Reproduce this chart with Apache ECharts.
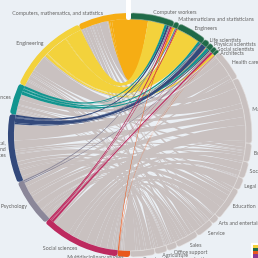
<!DOCTYPE html>
<html><head><meta charset="utf-8">
<script src="https://cdn.jsdelivr.net/npm/echarts@6/dist/echarts.min.js"></script>
<style>html,body{margin:0;padding:0;background:#ebf0f5;overflow:hidden}#c{width:258px;height:258px}</style>
</head><body><div id="c"></div><script>
// Occupations (right half, clockwise from the top)
const occupations = ['Computer workers', 'Mathematicians and statisticians', 'Engineers', 'Life scientists',
  'Physical scientists', 'Social scientists', 'Architects', 'Health care', 'Management', 'Business',
  'Social service', 'Legal', 'Education', 'Arts and entertainment', 'Service', 'Sales', 'Office support',
  'Agriculture', 'Construction and production'];
const stemOccupationCount = 7;
// Majors (left half, from the top going counter-clockwise)
const majors = ['Computers, mathematics, and statistics', 'Engineering', 'Physical sciences',
  'Biological, environmental and agricultural sciences', 'Psychology', 'Social sciences', 'Multidisciplinary studies'];
const majorLabels = ['Computers, mathematics, and statistics', 'Engineering', 'Physical sciences',
  'Biological,\nenvironmental and\nagricultural sciences', 'Psychology', 'Social sciences', 'Multidisciplinary studies'];
const majorColors = ['#f6ad14', '#f3d23c', '#12958f', '#33497b', '#8b8799', '#bd2a5f', '#e8581c'];
// Flows of each major into each occupation (same order as occupations)
const computersFlows = [9, 1, 0.6, 0, 0.1, 0.1, 0, 0.5, 4, 2, 0, 0, 1.5, 0.5, 1, 2, 1.5, 0, 1.2];
const engineeringFlows = [8.5, 0.4, 11.5, 0.1, 0.3, 0.1, 1.2, 0.8, 8, 1.5, 0, 0, 1, 0, 0.7, 2, 0.8, 0.5, 2.6];
const physicalFlows = [1.2, 0.3, 1.2, 0.3, 1.5, 0, 0.1, 2.5, 2.5, 0.5, 0, 0, 2, 0, 0.4, 0.8, 0.3, 0.4, 1];
const biologicalFlows = [1, 0.2, 0.4, 2.4, 0.6, 0.1, 0, 8, 4.5, 1, 1, 0.5, 3.5, 0.2, 1.8, 2, 0.8, 3, 2];
const psychologyFlows = [0.6, 0.1, 0.1, 0.1, 0, 0.6, 0, 2, 4, 1.5, 4, 0.3, 3.5, 0.5, 1.6, 1.8, 0.8, 0, 1.5];
const socialFlows = [0.8, 0.5, 0.2, 0.1, 0, 1, 0.1, 1.2, 8, 2.5, 2.5, 5, 4.5, 2.6, 3.5, 2.4, 0.8, 1.3, 1];
const multiFlows = [0.4, 0, 0, 0, 0, 0.1, 0.1, 0, 1, 0, 0.5, 0.2, 0, 0.2, 0, 0, 0, 0.8, 2.7];
const flows = [computersFlows, engineeringFlows, physicalFlows, biologicalFlows, psychologyFlows, socialFlows, multiFlows];

const STEM_GREEN = '#1f6a48', GREY = '#c9c1c0';
// small nudges for crowded / shifted labels (style only)
const labelNudge = { 'Life scientists': [0, 2], 'Physical scientists': [0, 2.3], 'Social scientists': [0, 3.5],
  'Architects': [0, 4.6], 'Engineering': [2, -3], 'Multidisciplinary studies': [0, -2.5] };
const sum = a => a.reduce((s, v) => s + v, 0);
const occTotals = occupations.map((_, j) => sum(flows.map(r => r[j])));
const majorTotals = flows.map(sum);

const nodes = [], pieData = [];
occupations.forEach((o, j) => {
  const stem = j < stemOccupationCount;
  nodes.push({ name: o, itemStyle: { color: stem ? STEM_GREEN : GREY, borderColor: stem ? '#7aa08a' : '#e6e2e1', borderWidth: 0.6 } });
  const item = { name: o, value: occTotals[j] };
  if (labelNudge[o]) item.label = { offset: labelNudge[o] };
  pieData.push(item);
});
for (let i = majors.length - 1; i >= 0; i--) {
  nodes.push({ name: majors[i], itemStyle: { color: majorColors[i], borderWidth: 0 } });
  const item = { name: majorLabels[i], value: majorTotals[i] };
  if (labelNudge[majors[i]]) item.label = { offset: labelNudge[majors[i]] };
  pieData.push(item);
}
// STEM jobs take the colour of the major, the other jobs stay grey (the colour of their own arc)
const links = [];
for (let j = occupations.length - 1; j >= 0; j--) {
  majors.forEach((m, i) => {
    const v = flows[i][j];
    if (v > 0) links.push({ source: m, target: occupations[j], value: v,
      lineStyle: { color: j < stemOccupationCount ? 'source' : 'target', opacity: 1 } });
  });
}
const chart = echarts.init(document.getElementById('c'), null, { renderer: 'canvas' });
chart.setOption({
  backgroundColor: '#ebf0f5',
  animation: false,
  series: [{
    type: 'chord', center: [130, 135], radius: [116, 122], startAngle: 90, clockwise: true,
    padAngle: 0, minAngle: 0, silent: true,
    label: { show: false },
    lineStyle: { color: 'target', opacity: 1 },
    data: nodes, links: links
  }, {
    type: 'pie', center: [130, 135], radius: [116, 122], startAngle: 90, clockwise: true,
    silent: true, avoidLabelOverlap: false, minShowLabelAngle: 0, z: 5,
    labelLayout: { hideOverlap: false },
    itemStyle: { color: 'rgba(0,0,0,0)' },
    label: { position: 'outside', fontSize: 5.3, color: '#6e6e6e', fontFamily: 'Lato', width: 220, overflow: 'none', distanceToLabelLine: 0, lineHeight: 6 },
    labelLine: { show: false, length: 3, length2: 0 },
    data: pieData
  }],
  graphic: [
    { type: 'rect', shape: { x: 126, y: -4, width: 5, height: 24, r: 2.5 }, style: { fill: '#ffffff' }, z: 10 },
    { type: 'rect', shape: { x: 251, y: 243, width: 7, height: 15 }, style: { fill: '#ffffff' }, z: 10 },
    { type: 'rect', shape: { x: 253, y: 245, width: 5, height: 3 }, style: { fill: '#f3d23c' }, z: 11 },
    { type: 'rect', shape: { x: 253, y: 248, width: 5, height: 3 }, style: { fill: '#1f6a48' }, z: 11 },
    { type: 'rect', shape: { x: 253, y: 251, width: 5, height: 3 }, style: { fill: '#e8581c' }, z: 11 },
    { type: 'rect', shape: { x: 253, y: 254, width: 5, height: 4 }, style: { fill: '#8b3a8f' }, z: 11 }
  ]
});
</script></body></html>
